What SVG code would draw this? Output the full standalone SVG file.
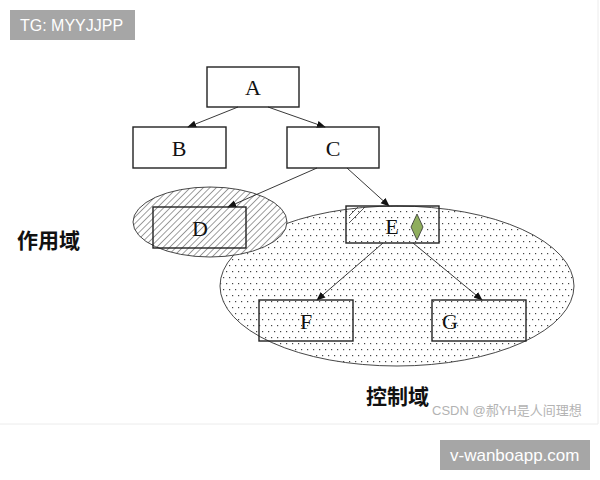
<svg xmlns="http://www.w3.org/2000/svg" width="600" height="480" viewBox="0 0 600 480">
<style>
.box{fill:none;stroke:#222;stroke-width:1.4}
.lbl{font-family:"Liberation Serif",serif;font-size:22px;fill:#111;text-anchor:middle}
.edge{stroke:#222;stroke-width:0.9;fill:none;marker-end:url(#ah)}
.cjk{font-family:"Noto Sans CJK SC",sans-serif;font-weight:bold;font-size:21px;fill:#111}
.tag{fill:#a6a6a6}
.tagt{font-family:"Liberation Sans",sans-serif;fill:#fff}
</style>
<defs>
<marker id="ah" viewBox="0 0 10 10" refX="9" refY="5" markerWidth="9" markerHeight="9" markerUnits="userSpaceOnUse" orient="auto">
<path d="M0,1 L10,5 L0,9 z" fill="#111"/>
</marker>
<pattern id="dots" width="6" height="12" patternUnits="userSpaceOnUse">
<rect width="6" height="12" fill="#fff"/>
<rect x="1" y="1" width="1.2" height="1.2" fill="#444"/>
<rect x="4" y="7" width="1.2" height="1.2" fill="#444"/>
</pattern>
<pattern id="hatch" width="4.6" height="6" patternUnits="userSpaceOnUse" patternTransform="rotate(45)">
<rect width="4.6" height="6" fill="#fff"/>
<line x1="0" y1="0" x2="0" y2="6" stroke="#222" stroke-width="0.9"/>
</pattern>
</defs>
<rect width="600" height="480" fill="#fff"/>
<line x1="0" y1="424" x2="598" y2="424" stroke="#ececec"/>
<line x1="598" y1="0" x2="598" y2="424" stroke="#ececec"/>

<g id="control-domain">
<ellipse cx="397" cy="286" rx="177" ry="80" fill="url(#dots)" stroke="#333" stroke-width="0.9"/>
</g>
<g id="scope-domain">
<ellipse cx="210" cy="222" rx="77" ry="35" fill="url(#hatch)" stroke="#333" stroke-width="0.9"/>
</g>

<g id="connectors">
<line class="edge" x1="238" y1="107" x2="188" y2="127"/>
<line class="edge" x1="268" y1="107" x2="325" y2="127"/>
<line class="edge" x1="317" y1="168" x2="228" y2="207"/>
<line class="edge" x1="347" y1="168" x2="389" y2="206"/>
<line class="edge" x1="383" y1="243" x2="317" y2="300"/>
<line class="edge" x1="413" y1="243" x2="482" y2="300"/>
</g>

<g id="A"><rect class="box" x="207" y="67" width="92" height="40"/><text class="lbl" x="253" y="95">A</text></g>
<g id="B"><rect class="box" x="133" y="127" width="93" height="41"/><text class="lbl" x="179" y="156">B</text></g>
<g id="C"><rect class="box" x="287" y="127" width="92" height="41"/><text class="lbl" x="333" y="156">C</text></g>
<g id="D"><rect class="box" x="153" y="207" width="93" height="41"/><text class="lbl" x="200" y="236">D</text></g>
<g id="E">
<rect class="box" x="346" y="206" width="93" height="37"/>
<line x1="349" y1="216" x2="358" y2="207" stroke="#333" stroke-width="0.8"/>
<line x1="349" y1="223" x2="365" y2="207" stroke="#333" stroke-width="0.8"/>
<text class="lbl" x="392" y="234">E</text>
<path d="M417,214 L423,227 L417,240 L411,227 z" fill="#8fae5d" stroke="#333" stroke-width="0.8"/>
</g>
<g id="F"><rect class="box" x="259" y="300" width="94" height="41"/><text class="lbl" x="306" y="329">F</text></g>
<g id="G"><rect class="box" x="432" y="300" width="94" height="41"/><text class="lbl" x="450" y="329">G</text></g>

<text class="cjk" x="17" y="248">作用域</text>
<text class="cjk" x="366" y="404">控制域</text>
<text x="432" y="415" font-family="'Liberation Sans','Noto Sans CJK SC',sans-serif" font-size="13" fill="#b3b3b3">CSDN @郝YH是人间理想</text>

<g id="tag-top"><rect class="tag" x="10" y="10" width="125" height="30"/><text class="tagt" x="20" y="31" font-size="16">TG: MYYJJPP</text></g>
<g id="tag-bottom"><rect class="tag" x="440" y="440" width="150" height="30"/><text class="tagt" x="450" y="461" font-size="17">v-wanboapp.com</text></g>
</svg>
